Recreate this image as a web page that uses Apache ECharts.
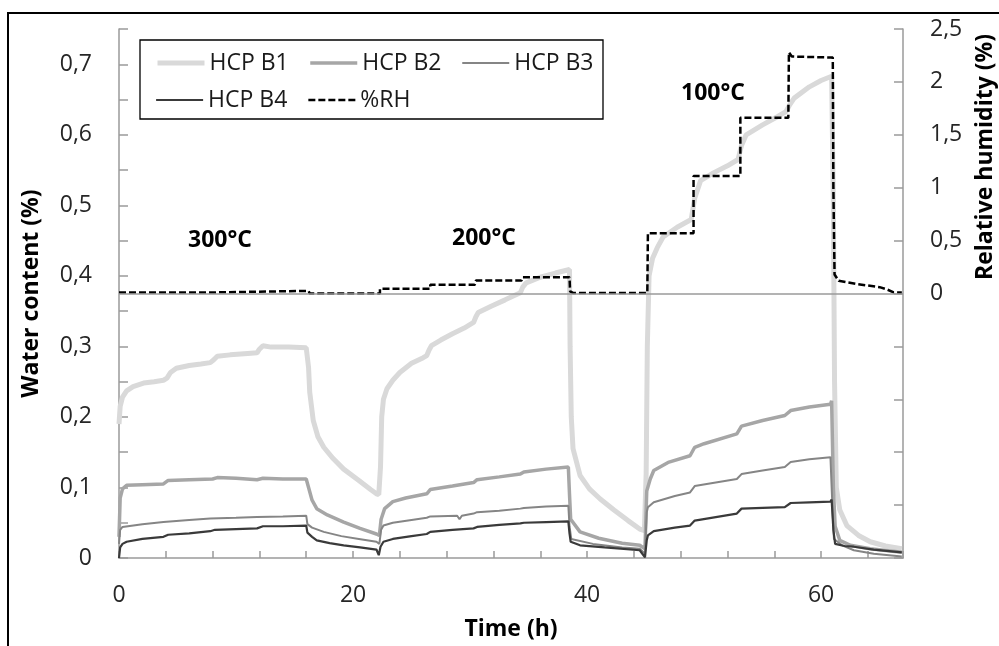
<!DOCTYPE html>
<html><head><meta charset="utf-8">
<script src="https://cdn.jsdelivr.net/npm/echarts@6/dist/echarts.min.js"></script>
<style>html,body{margin:0;padding:0;background:#fff}#c{width:999px;height:646px}</style>
</head><body><div id="c"></div>
<script>
// ---- data (time in h) ----
const tB1 = [0,0.1,0.3,0.65,1.2,2.1,3.0,3.8,4.1,4.4,4.9,6.0,7.0,7.8,8.1,8.4,9.5,11.0,11.8,12.0,12.3,13.0,14.5,16.0,16.2,16.3,16.6,17.0,17.5,18.3,19.2,20.5,21.5,22.0,22.2,22.35,22.45,22.6,22.9,23.4,24.0,25.0,26.0,26.3,26.5,26.7,27.5,28.5,29.5,30.3,30.5,30.7,31.8,33.0,34.3,34.5,34.8,36.0,37.3,38.5,38.55,38.65,38.8,39.4,40.2,41.1,42.3,43.5,44.5,44.9,45.05,45.15,45.3,45.6,46.0,46.5,47.7,48.9,49.2,49.7,50.8,52.0,52.9,53.2,53.6,55.0,56.3,57.0,57.3,57.7,59.0,60.0,60.9,61.05,61.15,61.3,61.6,62.2,63.2,64.2,65.5,66.9];
const vB1 = [0.19,0.215,0.228,0.237,0.243,0.248,0.250,0.252,0.255,0.263,0.269,0.273,0.275,0.277,0.281,0.286,0.288,0.290,0.291,0.296,0.301,0.299,0.299,0.298,0.27,0.235,0.195,0.172,0.157,0.141,0.126,0.110,0.097,0.091,0.090,0.13,0.20,0.225,0.240,0.252,0.263,0.276,0.284,0.287,0.295,0.301,0.309,0.318,0.326,0.334,0.342,0.348,0.357,0.366,0.376,0.384,0.390,0.398,0.404,0.409,0.30,0.20,0.155,0.117,0.098,0.084,0.068,0.053,0.041,0.039,0.12,0.30,0.40,0.425,0.44,0.455,0.469,0.480,0.510,0.535,0.546,0.556,0.565,0.585,0.600,0.614,0.626,0.633,0.642,0.652,0.668,0.677,0.683,0.50,0.25,0.10,0.068,0.046,0.032,0.023,0.017,0.013];

const tB2 = [0,0.1,0.3,0.65,2.0,3.8,4.2,6.0,8.0,8.4,10.0,11.8,12.3,14.0,16.0,16.2,16.5,16.9,17.8,19.2,20.6,22.0,22.25,22.4,22.7,23.4,24.5,26.3,26.6,28.5,30.3,30.6,32.5,34.3,34.6,36.5,38.4,38.5,38.6,39.4,41.0,43.0,44.5,44.95,45.1,45.4,45.7,47.0,48.8,49.2,50.0,52.8,53.2,55.0,56.9,57.4,59.0,60.8,60.9,61.05,61.2,61.6,62.5,64.2,66.9];
const vB2 = [0.03,0.085,0.098,0.103,0.104,0.105,0.110,0.111,0.112,0.114,0.113,0.111,0.113,0.112,0.112,0.100,0.082,0.070,0.061,0.051,0.042,0.034,0.032,0.055,0.070,0.080,0.085,0.091,0.097,0.102,0.107,0.111,0.115,0.119,0.122,0.126,0.129,0.090,0.055,0.037,0.028,0.021,0.018,0.013,0.095,0.112,0.124,0.136,0.145,0.157,0.162,0.176,0.187,0.195,0.202,0.209,0.214,0.218,0.223,0.10,0.045,0.025,0.018,0.013,0.008];

const tB3 = [0,0.1,0.3,2.0,3.8,6.0,7.8,10.0,11.8,14.0,16.0,16.1,16.5,17.5,19.0,20.5,22.0,22.25,22.4,22.6,23.4,25.0,26.3,26.6,28.9,29.1,29.3,30.3,30.6,32.5,34.3,34.6,36.5,38.4,38.5,38.65,40.5,43.0,44.5,44.95,45.1,45.2,45.7,47.5,48.8,49.2,51.0,52.8,53.2,55.0,56.9,57.4,59.0,60.8,61.0,61.1,61.8,62.8,64.5,66.9];
const vB3 = [0.02,0.040,0.044,0.048,0.051,0.054,0.056,0.057,0.058,0.059,0.060,0.048,0.043,0.037,0.031,0.027,0.023,0.020,0.040,0.046,0.050,0.054,0.057,0.059,0.060,0.055,0.060,0.063,0.065,0.067,0.070,0.071,0.073,0.074,0.045,0.027,0.020,0.015,0.013,0.006,0.065,0.072,0.079,0.088,0.093,0.102,0.107,0.112,0.119,0.124,0.129,0.136,0.140,0.143,0.06,0.027,0.018,0.011,0.006,0.002];

const tB4 = [0,0.1,0.3,0.65,2.0,3.8,4.2,6.0,7.8,8.2,10.0,11.8,12.3,14.0,16.0,16.1,16.5,16.9,18.0,19.2,20.6,22.0,22.2,22.35,22.6,23.4,25.0,26.3,26.6,28.5,30.3,30.6,32.5,34.3,34.6,36.5,38.4,38.5,38.6,39.4,41.5,44.5,44.95,45.1,45.2,45.7,47.5,48.8,49.2,51.0,52.8,53.2,55.0,56.9,57.4,59.0,60.8,60.9,61.05,61.2,62.0,62.8,64.5,66.9];
const vB4 = [0.0,0.015,0.020,0.023,0.027,0.030,0.033,0.035,0.038,0.040,0.041,0.042,0.045,0.045,0.046,0.036,0.030,0.025,0.021,0.018,0.015,0.012,0.004,0.016,0.023,0.027,0.031,0.034,0.037,0.040,0.042,0.044,0.047,0.049,0.050,0.051,0.052,0.035,0.023,0.018,0.015,0.011,0.001,0.025,0.032,0.038,0.043,0.046,0.053,0.058,0.063,0.070,0.071,0.072,0.078,0.079,0.080,0.083,0.04,0.020,0.017,0.016,0.012,0.008];

const tRH = [0,8.0,8.0,16.2,16.3,22.3,22.3,26.6,26.6,30.4,30.5,34.4,34.5,38.5,38.55,38.8,45.15,45.2,49.1,49.1,53.1,53.1,57.2,57.25,57.5,61.0,61.05,61.15,61.5,63.0,65.0,65.6,66.2,66.9];
const vRH = [0.01,0.01,0.025,0.025,0.0,0.0,0.045,0.045,0.082,0.082,0.123,0.123,0.154,0.154,0.02,0.005,0.005,0.57,0.57,1.11,1.11,1.66,1.66,2.28,2.24,2.23,1.0,0.18,0.12,0.09,0.06,0.04,0.01,0.01];

const seriesNames = ['HCP B1','HCP B2','HCP B3','HCP B4','%RH'];
const xLabelValues = [0,20,40,60];
const leftLabelValues = [0,0.1,0.2,0.3,0.4,0.5,0.6,0.7];
const rightLabelValues = [0,0.5,1,1.5,2,2.5];
const tempLabels = ['300°C','200°C','100°C'];

// ---- styles ----
const FONT = 'Open Sans';
const axisGray = '#9a9a9a';
const labelColor = '#262626';
const seriesStyles = {
  'HCP B1': {color: '#d9d9d9', width: 5},
  'HCP B2': {color: '#a6a6a6', width: 3.5},
  'HCP B3': {color: '#858585', width: 2},
  'HCP B4': {color: '#3a3a3a', width: 2.2},
  '%RH': {color: '#000000', width: 2.5, type: [7, 3]}
};

// ---- build ----
const zip = (t, v) => t.map((x, i) => [x, v[i]]);
const comma = v => String(v).replace('.', ',');

const chart = echarts.init(document.getElementById('c'), null, {renderer: 'canvas'});
const lineBase = {type: 'line', showSymbol: false, symbol: 'none', animation: false, smooth: false};
const legendText = {fontFamily: FONT, fontSize: 23, color: '#1a1a1a', width: 94, lineHeight: 26};
const legendBase = {left: 155, padding: 0, itemWidth: 47, itemHeight: 14, itemGap: 5, textStyle: legendText,
  itemStyle: {opacity: 0, borderWidth: 0}};
const legendItems = names => names.map(n => ({name: n, lineStyle: Object.assign({}, seriesStyles[n])}));
const mkSeries = (name, axis, t, v) => Object.assign({}, lineBase, {name: name, yAxisIndex: axis, data: zip(t, v),
  lineStyle: Object.assign({}, seriesStyles[name]), itemStyle: {color: seriesStyles[name].color}});

const rhSeries = mkSeries('%RH', 1, tRH, vRH);
rhSeries.markLine = {silent: true, symbol: 'none', label: {show: false}, animation: false,
  lineStyle: {color: axisGray, width: 1.5, type: 'solid'}, data: [{yAxis: 0}]};

chart.setOption({
  backgroundColor: '#fff',
  animation: false,
  grid: {left: 119, right: 96, top: 29, bottom: 87},
  legend: [
    Object.assign({}, legendBase, {data: legendItems(seriesNames.slice(0, 3)), top: 50}),
    Object.assign({}, legendBase, {data: legendItems(seriesNames.slice(3)), top: 87})
  ],
  xAxis: {
    type: 'value', min: 0, max: 67, interval: 4,
    axisLine: {lineStyle: {color: axisGray, width: 1.5}},
    axisTick: {inside: true, length: 7, lineStyle: {color: axisGray, width: 1.5}},
    axisLabel: {margin: 26, fontFamily: FONT, fontSize: 23, color: labelColor,
      formatter: v => xLabelValues.includes(Math.round(v)) && Math.abs(v - Math.round(v)) < 1e-6 ? String(Math.round(v)) : ''},
    splitLine: {show: false},
    name: 'Time (h)', nameLocation: 'middle', nameGap: 60,
    nameTextStyle: {fontFamily: FONT, fontSize: 23, fontWeight: 'bold', color: '#000'}
  },
  yAxis: [
    {
      type: 'value', min: 0, max: 0.75, interval: 0.05, position: 'left',
      axisLine: {show: true, lineStyle: {color: axisGray, width: 1.5}},
      axisTick: {show: true, inside: true, length: 9, lineStyle: {color: axisGray, width: 1.5}},
      axisLabel: {margin: 27, fontFamily: FONT, fontSize: 23, color: labelColor,
        formatter: v => { const n = Math.round(v * 100); const lv = n / 100; return (n % 10 === 0 && leftLabelValues.includes(lv)) ? comma(lv) : ''; }},
      splitLine: {show: false},
      name: 'Water content (%)', nameLocation: 'middle', nameGap: 76, nameRotate: 90,
      nameTextStyle: {fontFamily: FONT, fontSize: 23, fontWeight: 'bold', color: '#000'}
    },
    {
      type: 'value', min: -2.5, max: 2.5, interval: 0.5, position: 'right',
      axisLine: {show: true, lineStyle: {color: axisGray, width: 1.5}},
      axisTick: {show: true, inside: true, length: 9, lineStyle: {color: axisGray, width: 1.5}},
      axisLabel: {margin: 27, fontFamily: FONT, fontSize: 23, color: labelColor,
        formatter: v => { const r = Math.round(v * 10) / 10; return rightLabelValues.includes(r) ? comma(r) : ''; }},
      splitLine: {show: false}
    }
  ],
  series: [
    mkSeries('HCP B1', 0, tB1, vB1),
    mkSeries('HCP B2', 0, tB2, vB2),
    mkSeries('HCP B3', 0, tB3, vB3),
    mkSeries('HCP B4', 0, tB4, vB4),
    rhSeries
  ],
  graphic: [
    {type: 'polyline', shape: {points: [[8, 700], [8, 13], [1010, 13]]}, style: {stroke: '#000', lineWidth: 2, fill: null}, z: 10},
    {type: 'rect', shape: {x: 140, y: 40, width: 463, height: 79}, style: {stroke: '#000', lineWidth: 1.3, fill: '#fff'}, z: 0},
    {type: 'text', x: 220, y: 240, style: {text: tempLabels[0], fontFamily: FONT, fontSize: 23, fontWeight: 'bold', fill: '#000', align: 'center', verticalAlign: 'middle'}},
    {type: 'text', x: 484, y: 238, style: {text: tempLabels[1], fontFamily: FONT, fontSize: 23, fontWeight: 'bold', fill: '#000', align: 'center', verticalAlign: 'middle'}},
    {type: 'text', x: 713, y: 93, style: {text: tempLabels[2], fontFamily: FONT, fontSize: 23, fontWeight: 'bold', fill: '#000', align: 'center', verticalAlign: 'middle'}},
    {type: 'text', x: 985, y: 157, rotation: Math.PI / 2, style: {text: 'Relative humidity (%)', fontFamily: FONT, fontSize: 23, fontWeight: 'bold', fill: '#000', align: 'center', verticalAlign: 'middle'}}
  ]
});
</script>
</body></html>
